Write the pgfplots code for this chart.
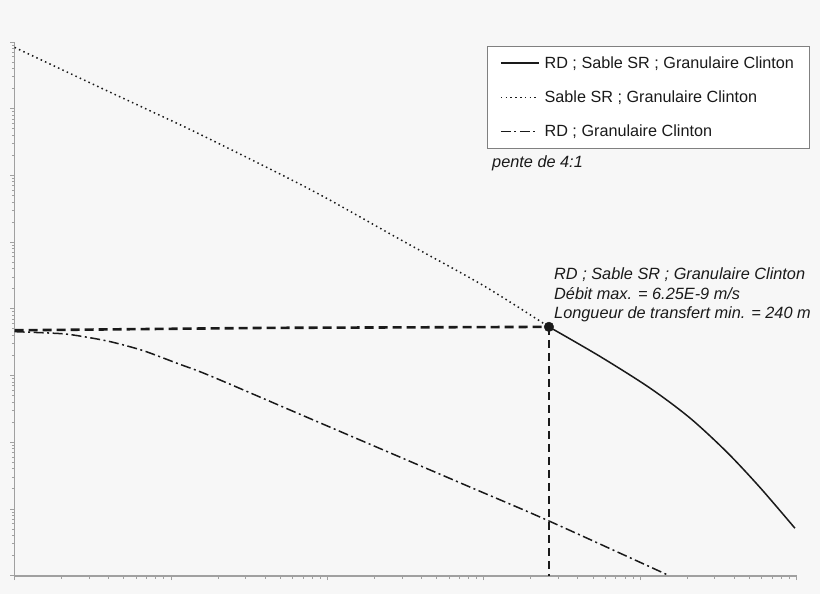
\documentclass[border=0pt]{standalone}
\usepackage{fontspec}
\setmainfont{Liberation Sans}
\usepackage{pgfplots}
\pgfplotsset{compat=1.18}
\definecolor{bg}{HTML}{F7F7F7}
\definecolor{axisgray}{HTML}{A0A0A0}
\definecolor{ink}{HTML}{1A1A1A}

\begin{document}
\begin{tikzpicture}[x=1pt,y=1pt]
\fill[bg] (0,0) rectangle (820,594);
\begin{axis}[
  at={(14.6pt,18.3pt)}, anchor=south west,
  scale only axis, width=781.9pt, height=533.7pt,
  xmode=log, ymode=log,
  xmin=0.1, xmax=10000, ymin=1e-12, ymax=1e-4,
  axis lines=left,
  axis line style={-, draw=axisgray, line width=1.8pt},
  tick align=outside,
  major tick length=4.5pt, minor tick length=2.8pt,
  every tick/.style={draw=axisgray, line width=0.9pt},
  xticklabel=\empty, yticklabel=\empty,
  clip=false,
  legend cell align=left,
  legend image code/.code={\draw[#1] (0pt,0pt) -- (38pt,0pt); \path (41pt,0pt);},
  legend style={
    at={(0.6038,0.9925)}, anchor=north west,
    draw=gray, line width=0.8pt, fill=white,
    font=\fontsize{16.2}{19}\selectfont, text=ink,
    inner xsep=13pt, inner ysep=8pt,
    row sep=17pt,
    nodes={inner sep=2pt},
  },
]
% RD ; Sable SR ; Granulaire Clinton
\addplot[ink, line width=1.5pt, smooth, tension=0.5] coordinates {
  (261.2,5.37e-9) (553.4,1.94e-9) (1156,6.50e-10) (2084,2.31e-10)
  (3573,7.19e-11) (5834,2.11e-11) (9772,5.15e-12)
};
\addlegendentry{RD ; Sable SR ; Granulaire Clinton}
% Sable SR ; Granulaire Clinton
\addplot[ink, line width=1.5pt, dash pattern=on 1.5pt off 3.3pt, smooth, tension=0.5] coordinates {
  (0.1,8.3e-5) (0.3516,2.08e-5) (0.6998,9.82e-6) (1.531,4.14e-6)
  (7.745,6.18e-7) (29.11,1.10e-7) (99.3,2.24e-8) (261.2,5.37e-9)
};
\addlegendentry{Sable SR ; Granulaire Clinton}
% RD ; Granulaire Clinton
\addplot[ink, line width=1.5pt, dash pattern=on 10pt off 3.5pt on 2pt off 3.5pt, smooth, tension=0.5] coordinates {
  (0.1,4.55e-9) (0.195,4.26e-9) (0.262,3.91e-9) (0.4074,3.23e-9)
  (0.662,2.37e-9) (1.092,1.53e-9) (1.775,9.95e-10) (6.68,2.63e-10)
  (21.68,8.07e-11) (77.8,2.24e-11) (258,6.70e-12) (1538,1e-12)
};
\addlegendentry{RD ; Granulaire Clinton}
% guide lines to the design point
\addplot[ink, line width=2.6pt, dash pattern=on 9pt off 5pt, forget plot]
  coordinates {(0.1,4.77e-9) (4.32,5.19e-9) (261.2,5.37e-9)};
\addplot[ink, line width=2.4pt, dash pattern=on 8pt off 5pt, forget plot]
  coordinates {(261.2,5.37e-9) (261.2,1e-12)};
\addplot[only marks, mark=*, mark size=4.8pt, ink, forget plot]
  coordinates {(261.2,5.37e-9)};
\end{axis}
\begin{scope}[yshift=594pt, y=-1pt]
  \node[anchor=base west, inner sep=0, text=ink, font=\itshape\fontsize{16.3}{19}\selectfont]
    at (492,167.5) {pente de 4:1};
  \node[anchor=base west, inner sep=0, text=ink, font=\itshape\fontsize{16.3}{19}\selectfont]
    at (554,279.3) {RD ; Sable SR ; Granulaire Clinton};
  \node[anchor=base west, inner sep=0, text=ink, font=\itshape\fontsize{16.3}{19}\selectfont]
    at (554,300) {Débit max. = 6.25E-9 m/s};
  \node[anchor=base west, inner sep=0, text=ink, font=\itshape\fontsize{16.3}{19}\selectfont]
    at (554,318.5) {Longueur de transfert min. = 240 m};
\end{scope}
\pgfresetboundingbox
\useasboundingbox (0,0) rectangle (820,594);
\end{tikzpicture}
\end{document}
